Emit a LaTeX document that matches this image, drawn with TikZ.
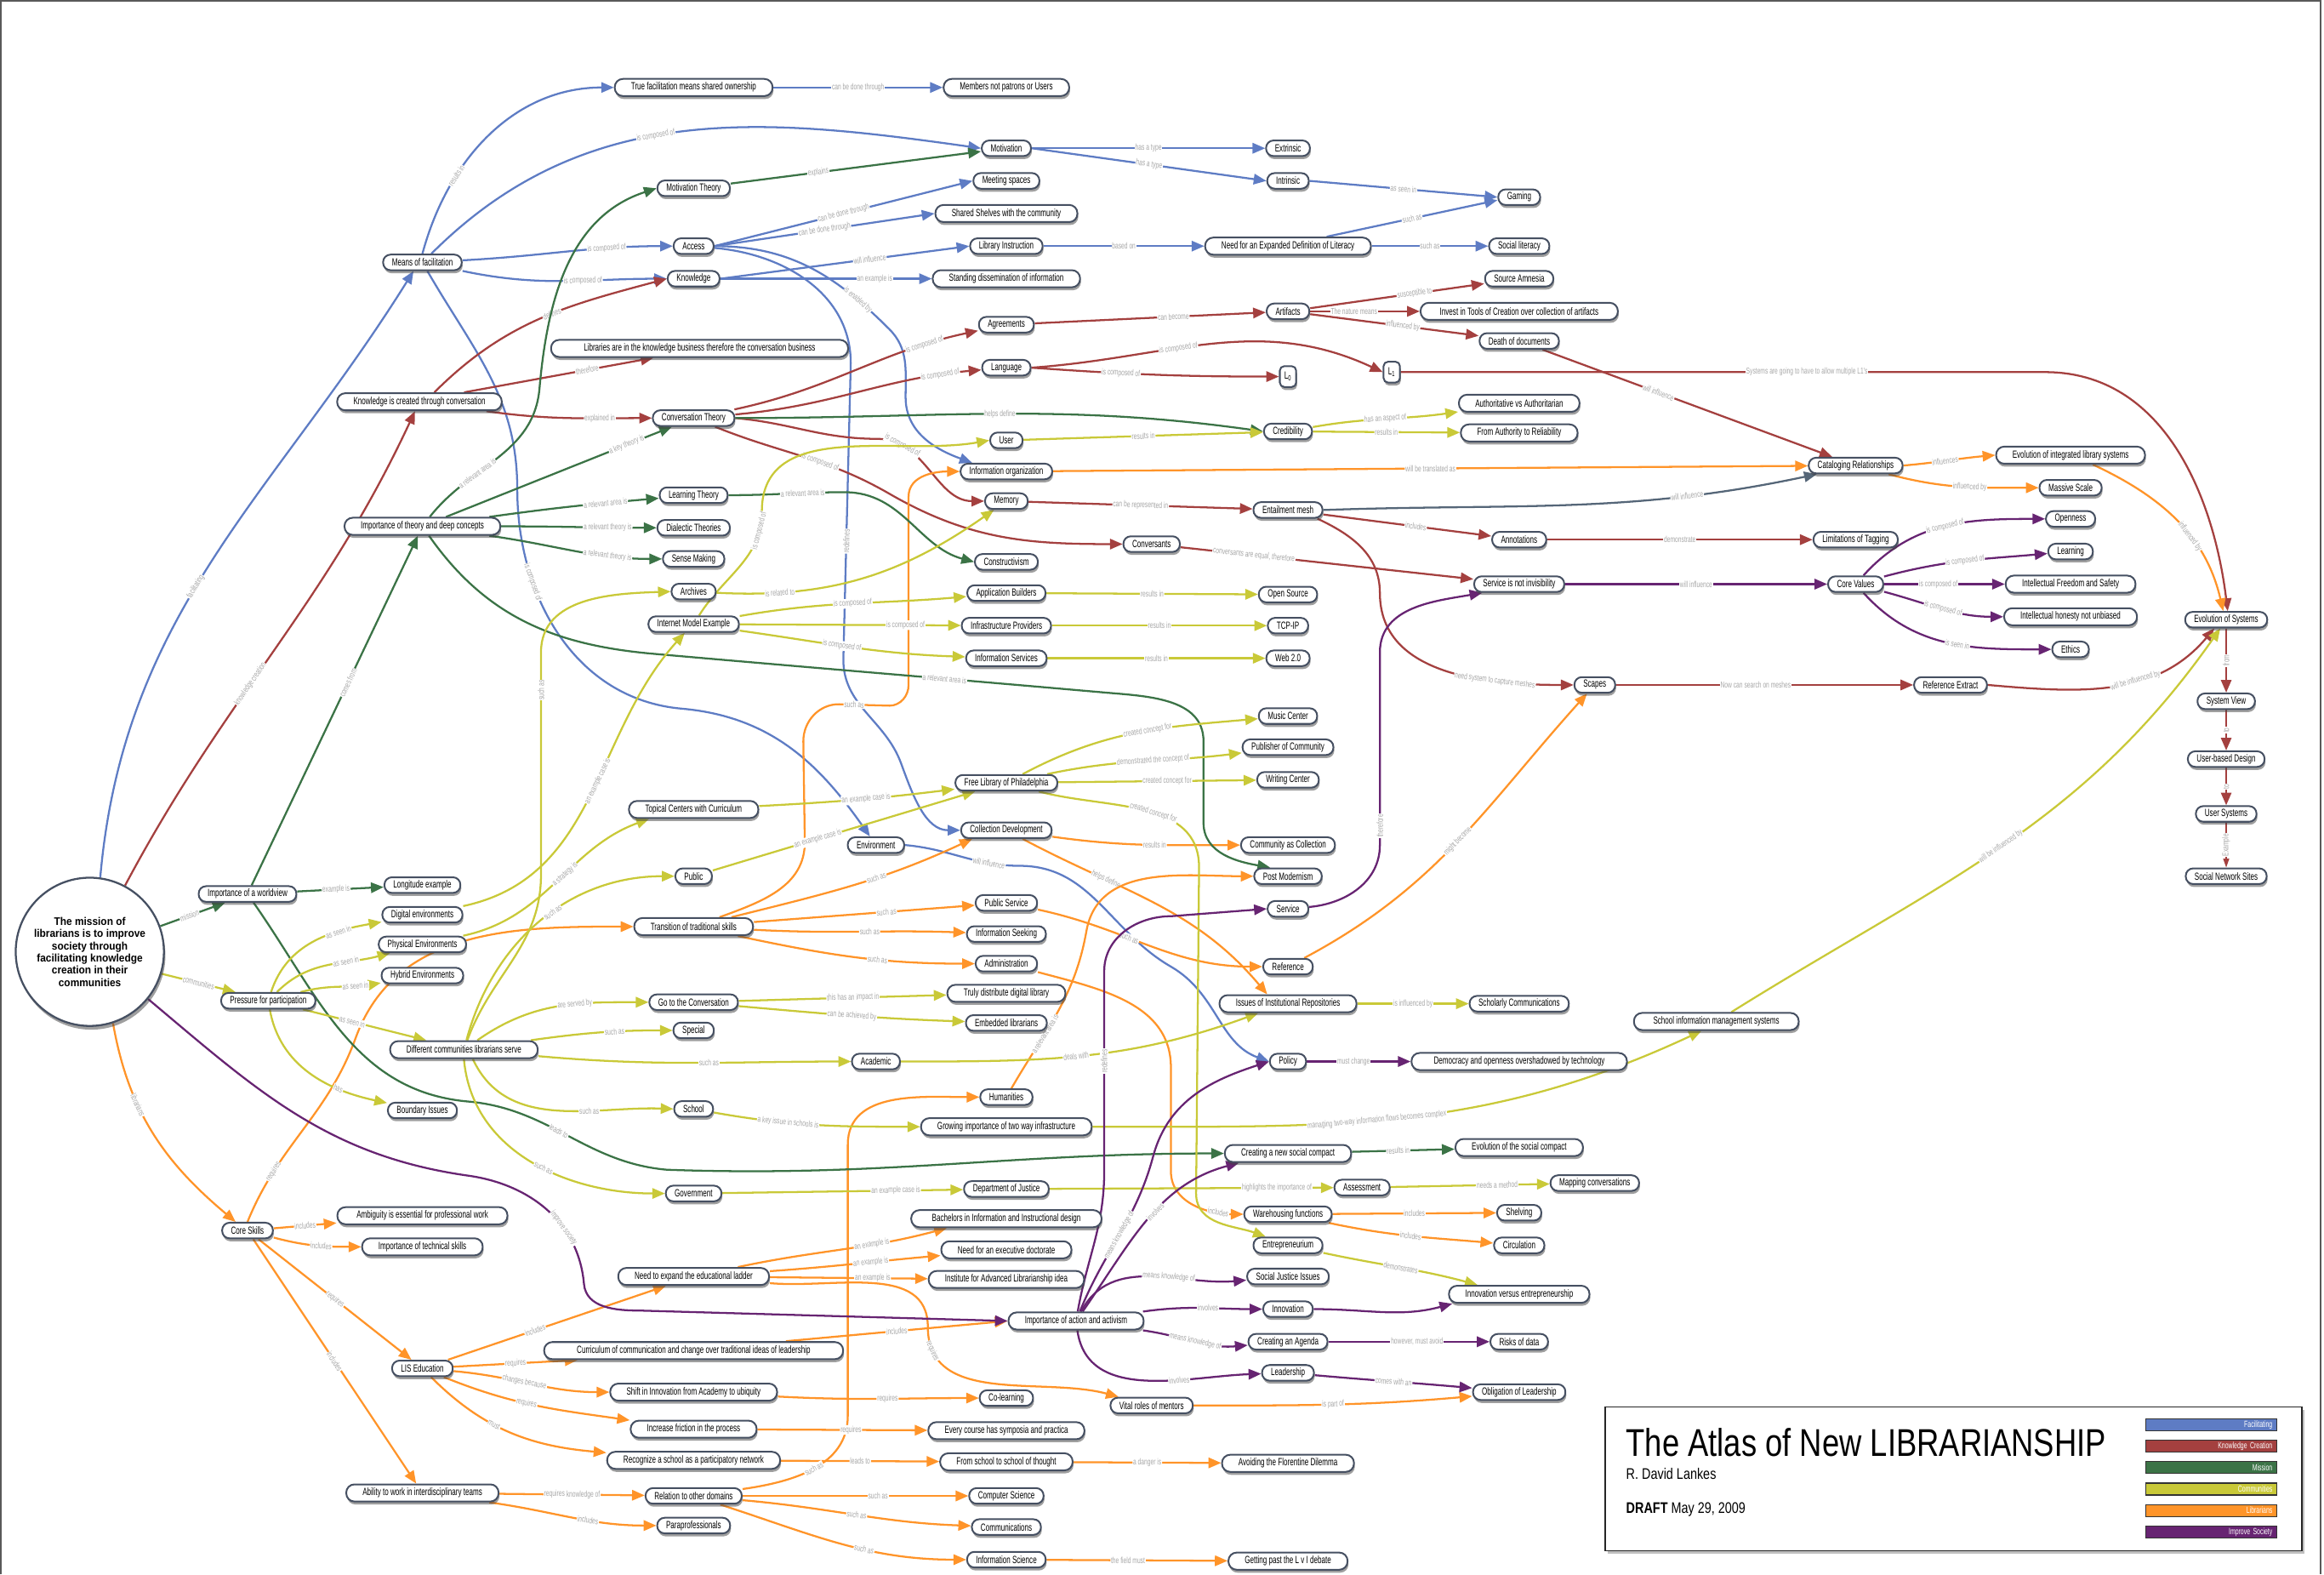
\documentclass[tikz,border=0pt]{standalone}
\usepackage{fontspec}
\setmainfont{Liberation Sans}
\newfontfamily\nodefont{Liberation Sans}[FakeStretch=0.66]
\newfontfamily\missionfont{Liberation Sans}[FakeStretch=0.92]
\newfontfamily\titlefont{Liberation Sans}[FakeStretch=0.8]
\usepackage{tikz}
\usetikzlibrary{positioning, arrows.meta, shadows}

\definecolor{facblue}{RGB}{94,124,196}
\definecolor{knored}{RGB}{164,64,63}
\definecolor{misgreen}{RGB}{59,115,70}
\definecolor{comyellow}{RGB}{201,201,56}
\definecolor{liborange}{RGB}{255,148,41}
\definecolor{socpurple}{RGB}{103,36,114}
\definecolor{slate}{RGB}{85,102,120}
\definecolor{boxline}{RGB}{70,80,98}
\definecolor{lblgray}{RGB}{168,168,168}

\pgfdeclarelayer{edges}
\pgfsetlayers{edges,main}

\tikzset{
  box/.style={draw=boxline, line width=1.15pt, fill=white, rounded corners=5pt,
    minimum height=10.5pt, inner xsep=6pt, inner ysep=1.2pt,
    font=\nodefont\fontsize{7}{8}\selectfont,
    drop shadow={shadow xshift=.6pt, shadow yshift=-2pt, opacity=.5, fill=black!75}},
  lbox/.style={box, inner xsep=11pt, minimum height=11.5pt, rounded corners=5.5pt},
  xlbox/.style={box, inner xsep=22pt, minimum height=11.5pt, rounded corners=5.5pt},
  sqbox/.style={box, rounded corners=3pt, minimum height=14pt, minimum width=11pt, inner xsep=2pt},
  lblbase/.style={font=\nodefont\fontsize{5.8}{6}\selectfont, text=lblgray, fill=white, inner sep=.5pt},
  lbl/.style={lblbase, sloped},
  vlbl/.style={lblbase, rotate=90},
  link/.style={line width=1.3pt, -{Triangle[length=8.5pt,width=7pt]}},
  fac/.style={link, draw=facblue},
  kno/.style={link, draw=knored},
  mis/.style={link, draw=misgreen},
  com/.style={link, draw=comyellow},
  lib/.style={link, draw=liborange},
  soc/.style={link, draw=socpurple},
  slt/.style={link, draw=slate},
  legbar/.style={draw=black!80, line width=.6pt, minimum height=8pt, text width=82pt,
    inner xsep=3pt, inner ysep=0pt, align=right, text=white,
    font=\nodefont\fontsize{6}{6}\selectfont}
}

\begin{document}
\begin{tikzpicture}[x=0.035cm, y=0.035cm]
\useasboundingbox (0,0) rectangle (1568,-1062);
\draw[black!65, line width=1.2pt] (0.8,-1062) -- (0.8,-0.8) -- (1565.5,-0.8) -- (1565.5,-1062);

\node[circle, draw=boxline, line width=1.3pt, fill=white, minimum size=3.5cm, inner sep=0pt,
  align=center, font=\missionfont\bfseries\fontsize{7.4}{8.2}\selectfont,
  drop shadow={shadow xshift=1pt, shadow yshift=-2.5pt, opacity=.5, fill=black!75}]
  (mission) at (60.6,-642) {The mission of\\librarians is to improve\\society through\\facilitating knowledge\\creation in their\\communities};

% first column
\node[box] (meansfac) at (285,-177) {Means of facilitation};
\node[lbox] (kcreated) at (283,-271) {Knowledge is created through conversation};
\node[lbox] (theory) at (285,-355) {Importance of theory and deep concepts};
\node[box] (worldview) at (167,-603) {Importance of a worldview};
\node[box] (pressure) at (181,-675) {Pressure for participation};
\node[box] (longitude) at (285,-597) {Longitude example};
\node[box] (digital) at (285,-617) {Digital environments};
\node[box] (physical) at (285,-637) {Physical Environments};
\node[box] (hybrid) at (285,-658) {Hybrid Environments};
\node[lbox] (diffcomm) at (313,-708) {Different communities librarians serve};
\node[box] (boundary) at (285,-749) {Boundary Issues};
\node[box] (coreskills) at (167,-830) {Core Skills};
\node[lbox, inner xsep=13pt] (ambiguity) at (285,-820) {Ambiguity is essential for professional work};
\node[lbox] (techskills) at (285,-841) {Importance of technical skills};
\node[box] (lised) at (285,-923) {LIS Education};
\node[lbox] (teams) at (285,-1007) {Ability to work in interdisciplinary teams};

% second column
\node[lbox] (truefac) at (468,-59) {True facilitation means shared ownership};
\node[box] (motivtheory) at (468,-127) {Motivation Theory};
\node[box] (access) at (468,-166) {Access};
\node[box] (knowledge) at (468,-188) {Knowledge};
\node[xlbox] (libbiz) at (472,-235) {Libraries are in the knowledge business therefore the conversation business};
\node[box] (convtheory) at (468,-282) {Conversation Theory};
\node[box] (learntheory) at (468,-334) {Learning Theory};
\node[box] (dialectic) at (468,-356) {Dialectic Theories};
\node[box] (sensemaking) at (468,-377) {Sense Making};
\node[box] (archives) at (468,-399) {Archives};
\node[box] (internet) at (468,-421) {Internet Model Example};
\node[lbox] (topical) at (468,-546) {Topical Centers with Curriculum};
\node[box] (public) at (468,-591) {Public};
\node[lbox] (transition) at (468,-625) {Transition of traditional skills};
\node[box] (goconv) at (468,-676) {Go to the Conversation};
\node[box] (special) at (468,-695) {Special};
\node[box] (school) at (468,-748) {School};
\node[box] (government) at (468,-805) {Government};
\node[lbox] (ladder) at (468,-861) {Need to expand the educational ladder};
\node[xlbox] (curriculum) at (468,-911) {Curriculum of communication and change over traditional ideas of leadership};
\node[lbox] (shift) at (468,-939) {Shift in Innovation from Academy to ubiquity};
\node[lbox] (friction) at (468,-964) {Increase friction in the process};
\node[lbox] (recognize) at (468,-985) {Recognize a school as a participatory network};
\node[box] (relation) at (468,-1009) {Relation to other domains};
\node[box] (parapro) at (468,-1029) {Paraprofessionals};

% third column
\node[lbox] (members) at (679,-59) {Members not patrons or Users};
\node[box] (motivation) at (679,-100) {Motivation};
\node[box] (meeting) at (679,-122) {Meeting spaces};
\node[lbox] (shelves) at (679,-144) {Shared Shelves with the community};
\node[box] (libinstr) at (679,-166) {Library Instruction};
\node[lbox] (standing) at (679,-188) {Standing dissemination of information};
\node[box] (agreements) at (679,-219) {Agreements};
\node[box] (language) at (679,-248) {Language};
\node[box] (user) at (679,-297) {User};
\node[box] (infoorg) at (679,-318) {Information organization};
\node[box] (memory) at (679,-338) {Memory};
\node[box] (constructivism) at (679,-379) {Constructivism};
\node[box] (appbuild) at (679,-400) {Application Builders};
\node[box] (infraprov) at (679,-422) {Infrastructure Providers};
\node[box] (infoserv) at (679,-444) {Information Services};
\node[box] (freelib) at (679,-528) {Free Library of Philadelphia};
\node[box] (colldev) at (679,-560) {Collection Development};
\node[box] (environment) at (591,-570) {Environment};
\node[box] (pubservice) at (679,-609) {Public Service};
\node[box] (infoseek) at (679,-630) {Information Seeking};
\node[box] (admin) at (679,-650) {Administration};
\node[lbox] (digilib) at (679,-670) {Truly distribute digital library};
\node[box] (embedded) at (679,-690) {Embedded librarians};
\node[box] (academic) at (591,-716) {Academic};
\node[box] (humanities) at (679,-740) {Humanities};
\node[lbox] (twoway) at (679,-760) {Growing importance of two way infrastructure};
\node[box] (justice) at (679,-802) {Department of Justice};
\node[lbox, inner xsep=14pt] (bachelors) at (679,-822) {Bachelors in Information and Instructional design};
\node[lbox] (doctorate) at (679,-843) {Need for an executive doctorate};
\node[lbox] (institute) at (679,-863) {Institute for Advanced Librarianship idea};
\node[lbox] (activism) at (726,-891) {Importance of action and activism};
\node[box] (colearning) at (679,-943) {Co-learning};
\node[lbox] (symposia) at (679,-965) {Every course has symposia and practica};
\node[lbox] (schoolthought) at (679,-986) {From school to school of thought};
\node[box] (compsci) at (679,-1009) {Computer Science};
\node[box] (communications) at (679,-1030) {Communications};
\node[box] (infosci) at (679,-1052) {Information Science};
\node[box] (mentors) at (777,-948) {Vital roles of mentors};

% fourth column
\node[box] (extrinsic) at (869,-100) {Extrinsic};
\node[box] (intrinsic) at (869,-122) {Intrinsic};
\node[lbox] (literacy) at (869,-166) {Need for an Expanded Definition of Literacy};
\node[box] (artifacts) at (869,-210) {Artifacts};
\node[sqbox] (lzero) at (869,-254) {L\textsubscript{0}};
\node[sqbox] (lone) at (939,-251) {L\textsubscript{1}};
\node[box] (credibility) at (869,-291) {Credibility};
\node[box] (entailment) at (869,-344) {Entailment mesh};
\node[box] (conversants) at (777,-367) {Conversants};
\node[box] (opensource) at (869,-401) {Open Source};
\node[box] (tcpip) at (869,-422) {TCP-IP};
\node[box] (web20) at (869,-444) {Web 2.0};
\node[box] (musiccenter) at (869,-483) {Music Center};
\node[box] (publisher) at (869,-504) {Publisher of Community};
\node[box] (writing) at (869,-526) {Writing Center};
\node[box] (commcoll) at (869,-570) {Community as Collection};
\node[box] (postmod) at (869,-591) {Post Modernism};
\node[box] (service) at (869,-613) {Service};
\node[box] (reference) at (869,-652) {Reference};
\node[lbox] (repos) at (869,-677) {Issues of Institutional Repositories};
\node[box] (policy) at (869,-716) {Policy};
\node[lbox] (newcompact) at (869,-778) {Creating a new social compact};
\node[box] (assessment) at (919,-801) {Assessment};
\node[box] (warehousing) at (869,-819) {Warehousing functions};
\node[box] (entrep) at (869,-840) {Entrepreneurium};
\node[box] (socjustice) at (869,-861) {Social Justice Issues};
\node[box] (innovation) at (869,-883) {Innovation};
\node[box] (agenda) at (869,-905) {Creating an Agenda};
\node[box] (leadership) at (869,-926) {Leadership};
\node[lbox] (florentine) at (869,-987) {Avoiding the Florentine Dilemma};
\node[lbox] (lvi) at (869,-1053) {Getting past the L v I debate};

% fifth column
\node[box] (gaming) at (1025,-133) {Gaming};
\node[box] (sociallit) at (1025,-166) {Social literacy};
\node[box] (amnesia) at (1025,-188) {Source Amnesia};
\node[lbox, inner xsep=13pt] (invest) at (1025,-210) {Invest in Tools of Creation over collection of artifacts};
\node[box] (deathdocs) at (1025,-230) {Death of documents};
\node[lbox] (authoritative) at (1025,-272) {Authoritative vs Authoritarian};
\node[lbox] (reliability) at (1025,-292) {From Authority to Reliability};
\node[box] (annotations) at (1025,-364) {Annotations};
\node[box] (notinvisible) at (1025,-394) {Service is not invisibility};
\node[box] (scapes) at (1076,-462) {Scapes};
\node[box] (scholarly) at (1025,-677) {Scholarly Communications};
\node[lbox, inner xsep=15pt] (democracy) at (1025,-716) {Democracy and openness overshadowed by technology};
\node[lbox] (evolcompact) at (1025,-774) {Evolution of the social compact};
\node[box] (mapping) at (1076,-798) {Mapping conversations};
\node[box] (shelving) at (1025,-818) {Shelving};
\node[box] (circulation) at (1025,-840) {Circulation};
\node[lbox] (innovvsent) at (1025,-873) {Innovation versus entrepreneurship};
\node[box] (risks) at (1025,-905) {Risks of data};
\node[box] (obligation) at (1025,-939) {Obligation of Leadership};

% right side
\node[box] (catalog) at (1252,-314) {Cataloging Relationships};
\node[box] (tagging) at (1252,-364) {Limitations of Tagging};
\node[box] (corevalues) at (1252,-394) {Core Values};
\node[box] (refextract) at (1316,-462) {Reference Extract};
\node[lbox, inner xsep=13pt] (schoolims) at (1158,-689) {School information management systems};
\node[lbox] (evolils) at (1397,-307) {Evolution of integrated library systems};
\node[box] (massive) at (1397,-329) {Massive Scale};
\node[box] (openness) at (1397,-350) {Openness};
\node[box] (learning) at (1397,-372) {Learning};
\node[lbox] (freedom) at (1397,-394) {Intellectual Freedom and Safety};
\node[lbox] (honesty) at (1397,-416) {Intellectual honesty not unbiased};
\node[box] (ethics) at (1397,-438) {Ethics};
\node[box] (evolsys) at (1502,-418) {Evolution of Systems};
\node[box] (sysview) at (1502,-473) {System View};
\node[box] (userdesign) at (1502,-512) {User-based Design};
\node[box] (usersys) at (1502,-549) {User Systems};
\node[box] (socialnet) at (1502,-591) {Social Network Sites};

\begin{pgfonlayer}{edges}
% facilitating
\draw[fac] (mission.82) to[out=85,in=238] node[lbl,pos=.45]{facilitating} ([xshift=-6pt]meansfac.south);
\draw[fac] (meansfac.north) to[out=75,in=180] node[lbl,pos=.3]{results in} (truefac.west);
\draw[fac] ([xshift=6pt]meansfac.north) to[out=45,in=172] node[lbl,pos=.45]{is composed of} (motivation.west);
\draw[fac] (meansfac) to[out=3,in=180] node[lbl,pos=.7]{is composed of} (access);
\draw[fac] (meansfac) to[out=-12,in=180] node[lbl,pos=.6]{is composed of} (knowledge);
\draw[fac] (meansfac) to[out=-60,in=90] (349,-330) to[out=-90,in=175] node[lbl,pos=.3]{is composed of} (460,-478) to[out=-5,in=125] (environment);
\draw[fac] (access.east) -- node[lbl]{can be done through} (meeting.west);
\draw[fac] (access.east) -- node[lbl]{can be done through} (shelves.west);
\draw[fac] (access) to[out=0,in=135] node[lbl,pos=.8]{is enabled by} (600,-222) to[out=-45,in=90] (611,-268) to[out=-90,in=160] ([xshift=-23pt]infoorg.north);
\draw[fac] (access) to[out=-5,in=90] (574,-245) -- node[lbl,pos=.6]{redefines} (569,-445) to[out=-90,in=110] (608,-515) to[out=-70,in=180] (colldev.west);
\draw[fac] (knowledge.east) -- node[lbl,pos=.6]{will influence} (libinstr.west);
\draw[fac] (knowledge.east) -- node[lbl,pos=.73]{an example is} (standing.west);
\draw[fac] (libinstr) -- node[lbl]{based on} (literacy);
\draw[fac] (motivation) -- node[lbl]{has a type} (extrinsic);
\draw[fac] (motivation.east) -- node[lbl]{has a type} (intrinsic.west);
\draw[fac] (intrinsic.east) -- node[lbl]{as seen in} (gaming.west);
\draw[fac] ([xshift=26pt]literacy.north) -- node[lbl]{such as} ([yshift=-2pt]gaming.west);
\draw[fac] (literacy) -- node[lbl]{such as} (sociallit);
\draw[fac] (truefac) -- node[lbl]{can be done through} (members);
\draw[fac] (environment.east) to[out=-5,in=180] node[lbl,pos=.75]{will influence} (688,-584) to[out=0,in=150] (790,-652) to[out=-30,in=160] (policy.west);

% knowledge creation
\draw[kno] (mission.62) to[out=62,in=245] node[lbl,pos=.42]{knowledge creation} ([xshift=-3pt]kcreated.south);
\draw[kno] ([xshift=10pt]kcreated.north) to[out=45,in=195] node[lbl,pos=.55]{defines} (knowledge.west);
\draw[kno] ([xshift=30pt]kcreated.north) -- node[lbl,pos=.65]{therefore} ([xshift=-31pt]libbiz.south);
\draw[kno] (kcreated) to[out=-8,in=180] node[lbl,pos=.7]{explained in} (convtheory);
\draw[kno] (convtheory) to[out=12,in=192] node[lbl,pos=.8]{is composed of} (agreements);
\draw[kno] (convtheory) to[out=5,in=185] node[lbl,pos=.85]{is composed of} (language);
\draw[kno] (convtheory.east) to[out=-5,in=180] (592,-296) to[out=0,in=180] node[lbl,pos=.2]{is composed of} (memory.west);
\draw[kno] (convtheory) to[out=-22,in=150] node[lbl,pos=.6]{is composed of} (600,-333) to[out=-30,in=180] (conversants.west);
\draw[kno] (agreements) -- node[lbl,pos=.6]{can become} (artifacts);
\draw[kno] (language.east) to[out=4,in=155] node[lbl,pos=.4]{is composed of} (lone.west);
\draw[kno] (language.east) to[out=-4,in=180] node[lbl,pos=.35]{is composed of} (lzero.west);
\draw[kno] (artifacts) -- node[lbl,pos=.6]{susceptible to} (amnesia);
\draw[kno] (artifacts) -- node[lbl,pos=.4]{The nature means} (invest);
\draw[kno] (artifacts) -- node[lbl,pos=.55]{influenced by} (deathdocs);
\draw[kno] (deathdocs) -- node[lbl,pos=.4]{will influence} (catalog);
\draw[kno] (lone.east) -- node[lbl,pos=.63]{Systems are going to have to allow multiple L1's} (1380,-251) to[out=0,in=97] ([xshift=1pt]evolsys.north);
\draw[kno] (memory) -- node[lbl]{can be represented in} (entailment);
\draw[kno] (entailment) -- node[lbl,pos=.55]{includes} (annotations);
\draw[kno] ([xshift=-4pt]entailment.south east) to[out=-25,in=90] (931,-400) to[out=-90,in=180] node[lbl,pos=.7]{need system to capture meshes} (scapes.west);
\draw[kno] (conversants) -- node[lbl,pos=.25]{conversants are equal, therefore} (notinvisible);
\draw[kno] (annotations) -- node[lbl]{demonstrate} (tagging);
\draw[kno] (scapes) -- node[lbl,pos=.47]{Now can search on meshes} (refextract);
\draw[kno] (refextract.east) to[out=-5,in=230] node[lbl,pos=.6]{will be influenced by} ([xshift=-8pt]evolsys.south);
\draw[kno] (evolsys) -- node[vlbl]{from} (sysview);
\draw[kno] (sysview) -- node[vlbl]{to} (userdesign);
\draw[kno] (userdesign) -- node[vlbl]{to} (usersys);
\draw[kno, line width=.7pt, -{Triangle[length=6pt,width=4pt]}] (usersys) -- node[vlbl]{Example} (socialnet);
\draw[slt] (entailment.east) to[out=2,in=192] node[lbl,pos=.75]{will influence} ([xshift=6pt]catalog.south west);

% librarians
\draw[lib] (infoorg) -- node[lbl]{will be translated as} (catalog);
\draw[lib] (catalog.east) to[out=5,in=185] node[lbl,pos=.45]{influences} (evolils.west);
\draw[lib] ([xshift=-10pt]catalog.south east) to[out=-15,in=180] node[lbl,pos=.55]{influenced by} (massive.west);
\draw[lib] ([xshift=15pt]evolils.south) to[out=-25,in=103] node[lbl,pos=.6]{influenced by} ([xshift=-2pt]evolsys.north);
\draw[lib] (mission.288) to[out=-80,in=140] node[lbl,pos=.35]{librarians} ([xshift=-8pt]coreskills.north);
\draw[lib] (coreskills) -- node[lbl]{includes} (ambiguity);
\draw[lib] (coreskills) to[out=-15,in=180] node[lbl,pos=.55]{includes} (techskills);
\draw[lib] (coreskills) -- node[lbl]{requires} (lised);
\draw[lib] (coreskills) -- node[lbl]{includes} (teams);
\draw[lib] (coreskills.north) to[out=68,in=250] node[lbl,pos=.25]{requires} (240,-700) to[out=70,in=180] (transition.west);
\draw[lib] (transition) to[out=20,in=-90] (543,-568) -- (542,-500) to[out=90,in=180] (566,-475) -- node[lbl,pos=.3]{such as} (600,-476) to[out=0,in=-90] (613,-462) -- (613,-335) to[out=90,in=180] (infoorg.west);
\draw[lib] (transition) to[out=14,in=205] node[lbl,pos=.6]{such as} ([xshift=8pt]colldev.south west);
\draw[lib] (transition) -- node[lbl,pos=.6]{such as} (pubservice);
\draw[lib] (transition) to[out=-3,in=178] node[lbl,pos=.55]{such as} (infoseek);
\draw[lib] (transition) to[out=-12,in=180] node[lbl,pos=.6]{such as} (admin);
\draw[lib] (colldev) to[out=-8,in=180] node[lbl,pos=.55]{results in} (commcoll);
\draw[lib] (colldev) to[out=-28,in=130] node[lbl,pos=.3]{helps define} ([xshift=-14pt]repos.north);
\draw[lib] (pubservice) to[out=-12,in=180] node[lbl,pos=.4]{such as} (reference);
\draw[lib] (admin) to[out=-15,in=90] (790,-720) -- (790,-790) to[out=-90,in=180] node[lbl,pos=.75]{includes} (warehousing.west);
\draw[lib] (warehousing) -- node[lbl]{includes} (shelving);
\draw[lib] (warehousing) to[out=-12,in=175] node[lbl]{includes} (circulation);
\draw[lib] (humanities) to[out=60,in=-100] node[lbl,pos=.35]{a relevant area is} (733,-628) to[out=80,in=180] (postmod.west);
\draw[lib] (reference) to[out=28,in=228] node[lbl]{might become} (scapes);
\draw[lib] (lised) -- node[lbl,pos=.4]{includes} (ladder);
\draw[lib] (lised) -- node[lbl]{requires} ([xshift=-78pt]curriculum.south);
\draw[lib] (lised) to[out=-5,in=180] node[lbl,pos=.45]{changes because} (shift);
\draw[lib] (lised) to[out=-22,in=172] node[lbl,pos=.45]{requires} (friction);
\draw[lib] (lised) to[out=-45,in=175] node[lbl,pos=.4]{must} (recognize);
\draw[lib] ([xshift=62pt]curriculum.north) -- node[lbl]{includes} (activism.west);
\draw[lib] (ladder) to[out=12,in=195] node[lbl,pos=.65]{an example is} ([xshift=-40pt]bachelors.south);
\draw[lib] (ladder) to[out=4,in=185] node[lbl,pos=.6]{an example is} (doctorate);
\draw[lib] (ladder) -- node[lbl,pos=.65]{an example is} (institute);
\draw[lib] (ladder) to[out=-5,in=90] (626,-895) to[out=-90,in=165] node[lbl,pos=.12]{requires} ([xshift=6pt]mentors.north west);
\draw[lib] (mentors) to[out=0,in=185] node[lbl]{is part of} (obligation);
\draw[lib] (recognize) -- node[lbl]{leads to} (schoolthought);
\draw[lib] (schoolthought) -- node[lbl]{a danger is} (florentine);
\draw[lib] (teams) -- node[lbl]{requires knowledge of} (relation);
\draw[lib] (teams) to[out=-8,in=180] node[lbl,pos=.6]{includes} (parapro);
\draw[lib] (relation) -- node[lbl,pos=.6]{such as} (compsci);
\draw[lib] (relation) to[out=-5,in=178] node[lbl]{such as} (communications);
\draw[lib] (relation) to[out=-18,in=180] node[lbl,pos=.6]{such as} (infosci);
\draw[lib] (relation) to[out=8,in=-90] node[lbl]{such as} (572,-955) -- (572,-772) to[out=90,in=180] (humanities.west);
\draw[lib] (infosci) -- node[lbl,pos=.45]{the field must} (lvi);
\draw[lib] (friction) -- node[lbl,pos=.55]{requires} (symposia);
\draw[lib] (shift) to[out=-3,in=180] node[lbl,pos=.55]{requires} (colearning);

% mission
\draw[mis] (mission.20) -- node[lbl,pos=.45]{mission} ([xshift=-15pt]worldview.south);
\draw[mis] (worldview) -- node[lbl,pos=.45]{example is} (longitude);
\draw[mis] (worldview) -- node[lbl,pos=.58]{comes from} (theory);
\draw[mis] (worldview) to[out=-55,in=175] (316,-743) to[out=-5,in=175] node[lbl,pos=.45]{leads to} (450,-789) to[out=-2,in=180] (newcompact.west);
\draw[mis] (theory) to[out=52,in=-95] node[lbl,pos=.35]{a relevant area is} (364,-262) to[out=85,in=198] (motivtheory.west);
\draw[mis] (theory) -- node[lbl,pos=.8]{a key theory is} (convtheory);
\draw[mis] (theory) to[out=8,in=185] node[lbl,pos=.7]{a relevant area is} (learntheory);
\draw[mis] (theory) to[out=0,in=180] node[lbl,pos=.7]{a relevant theory is} (dialectic);
\draw[mis] (theory) to[out=-8,in=180] node[lbl,pos=.7]{a relevant theory is} (sensemaking);
\draw[mis] (theory) to[out=-55,in=175] (441,-441) to[out=-5,in=175] node[lbl,pos=.66]{a relevant area is} (744,-467) to[out=-5,in=90] (812,-500) -- (812,-555) to[out=-90,in=170] ([xshift=-12pt]postmod.north);
\draw[mis] (learntheory) to[out=0,in=180] node[lbl,pos=.65]{a relevant area is} (570,-332) to[out=0,in=165] (constructivism.west);
\draw[mis] (convtheory.east) to[out=0,in=172] node[lbl]{helps define} (credibility.west);
\draw[mis] (newcompact) -- node[lbl,pos=.45]{results in} (evolcompact);
\draw[mis] (motivtheory) -- node[lbl,pos=.35]{explains} (motivation);

% communities
\draw[com] (mission.-17) -- node[lbl]{communities} ([xshift=-22pt]pressure.north);
\draw[com] (pressure) to[out=72,in=190] node[lbl,pos=.7]{as seen in} (digital);
\draw[com] (pressure) to[out=45,in=195] node[lbl,pos=.65]{as seen in} (physical);
\draw[com] (pressure) to[out=15,in=190] node[lbl,pos=.7]{as seen in} (hybrid);
\draw[com] (pressure) -- node[lbl,pos=.4]{as seen in} (diffcomm);
\draw[com] (pressure) to[out=-80,in=168] node[lbl,pos=.7]{has} (boundary);
\draw[com] (diffcomm) to[out=70,in=-90] (365,-590) -- node[lbl,pos=.83]{such as} (365,-440) to[out=90,in=182] (archives.west);
\draw[com] (digital) to[out=12,in=228] node[lbl,pos=.55]{an example case is} ([xshift=-6pt]internet.south);
\draw[com] (physical) to[out=12,in=200] node[lbl,pos=.55]{a strategy is} ([xshift=-30pt]topical.south);
\draw[com] (diffcomm) to[out=75,in=180] node[lbl,pos=.55]{such as} (public.west);
\draw[com] (diffcomm) to[out=35,in=180] node[lbl,pos=.6]{are served by} (goconv);
\draw[com] (diffcomm) to[out=8,in=180] node[lbl,pos=.6]{such as} (special);
\draw[com] (diffcomm) to[out=-5,in=180] node[lbl,pos=.55]{such as} (academic);
\draw[com] ([xshift=6pt]diffcomm.south) to[out=-65,in=178] node[lbl,pos=.65]{such as} (school.west);
\draw[com] (diffcomm.south) to[out=-85,in=180] node[lbl,pos=.55]{such as} (government.west);
\draw[com] (archives) to[out=-3,in=215] node[lbl,pos=.2]{is related to} (memory);
\draw[com] (internet) to[out=10,in=185] node[lbl]{is composed of} (appbuild);
\draw[com] (internet) -- node[lbl,pos=.75]{is composed of} (infraprov);
\draw[com] (internet) to[out=-8,in=178] node[lbl,pos=.45]{is composed of} (infoserv);
\draw[com] (internet) to[out=58,in=-90] node[lbl,pos=.85]{is composed of} (514,-345) to[out=90,in=190] (user.west);
\draw[com] (appbuild) -- node[lbl]{results in} (opensource);
\draw[com] (infraprov) -- node[lbl]{results in} (tcpip);
\draw[com] (infoserv) -- node[lbl]{results in} (web20);
\draw[com] (user) -- node[lbl]{results in} (credibility);
\draw[com] (credibility) to[out=10,in=188] node[lbl]{has an aspect of} (authoritative);
\draw[com] (credibility) -- node[lbl]{results in} (reliability);
\draw[com] (topical) to[out=3,in=187] node[lbl,pos=.55]{an example case is} (freelib);
\draw[com] (public) -- node[lbl,pos=.4]{an example case is} ([xshift=-21pt]freelib.south);
\draw[com] (freelib) to[out=28,in=185] node[lbl,pos=.55]{created concept for} (musiccenter);
\draw[com] (freelib) to[out=12,in=187] node[lbl,pos=.55]{demonstrated the concept of} (publisher);
\draw[com] (freelib) -- node[lbl,pos=.55]{created concept for} (writing);
\draw[com] (freelib) to[out=-15,in=90] node[lbl,pos=.55]{created concept for} (809,-585) -- (807,-805) to[out=-90,in=160] ([xshift=-15pt]entrep.north);
\draw[com] (goconv) -- node[lbl,pos=.55]{this has an impact in} (digilib);
\draw[com] (goconv) to[out=-5,in=178] node[lbl]{can be achieved by} (embedded);
\draw[com] (school) to[out=-10,in=180] node[lbl,pos=.35]{a key issue in schools is} (twoway);
\draw[com] (twoway) to[out=0,in=205] node[lbl,pos=.45]{managing two-way information flows becomes complex} ([xshift=-10pt]schoolims.south);
\draw[com] (schoolims) to[out=32,in=235] node[lbl]{will be influenced by} ([xshift=-4pt]evolsys.south);
\draw[com] (government) -- node[lbl,pos=.72]{an example case is} (justice);
\draw[com] (justice) -- node[lbl,pos=.8]{highlights the importance of} (assessment);
\draw[com] (assessment) -- node[lbl,pos=.67]{needs a method} (mapping);
\draw[com] (academic) to[out=0,in=200] node[lbl,pos=.48]{deals with} ([xshift=-20pt]repos.south);
\draw[com] (repos) -- node[lbl]{is influenced by} (scholarly);
\draw[com] (entrep) to[out=-12,in=165] node[lbl]{demonstrates} ([xshift=-28pt]innovvsent.north);

% improve society
\draw[soc] (mission.321) to[out=-40,in=172] (316,-793) to[out=-8,in=95] node[lbl,pos=.65]{improve society} (394,-866) to[out=-85,in=180] (432,-884) -- (activism.west);
\draw[soc] (activism) to[out=62,in=185] node[lbl,pos=.6]{means knowledge of} (socjustice);
\draw[soc] (activism) to[out=8,in=180] node[lbl,pos=.55]{involves} (innovation);
\draw[soc] (activism) to[out=-8,in=185] node[lbl]{means knowledge of} (agenda);
\draw[soc] (activism) to[out=-82,in=182] node[lbl,pos=.65]{involves} (leadership);
\draw[soc] (activism) to[out=80,in=-90] (745,-790) -- node[lbl,pos=.55]{redefines} (745,-655) to[out=90,in=180] (790,-618) -- (service.west);
\draw[soc] (activism) to[out=68,in=-105] node[lbl]{means knowledge of} (778,-780) to[out=75,in=198] (policy.west);
\draw[soc] (activism) to[out=55,in=195] node[lbl,pos=.55]{involves} ([xshift=-33pt]newcompact.south);
\draw[soc] (service) to[out=5,in=-90] (931,-570) -- node[lbl,pos=.1]{therefore} (931,-440) to[out=90,in=190] ([xshift=6pt]notinvisible.south west);
\draw[soc] (notinvisible) -- node[lbl]{will influence} (corevalues);
\draw[soc] (corevalues) to[out=48,in=180] node[lbl]{is composed of} (openness);
\draw[soc] (corevalues) to[out=15,in=185] node[lbl]{is composed of} (learning);
\draw[soc] (corevalues) -- node[lbl,pos=.45]{is composed of} (freedom);
\draw[soc] (corevalues) to[out=-15,in=180] node[lbl]{is composed of} (honesty);
\draw[soc] (corevalues) to[out=-48,in=180] node[lbl,pos=.55]{is seen in} (ethics);
\draw[soc] (policy) -- node[lbl,pos=.45]{must change} (democracy);
\draw[soc] (innovation) to[out=0,in=195] ([xshift=-45pt]innovvsent.south);
\draw[soc] (agenda) -- node[lbl,pos=.55]{however, must avoid} (risks);
\draw[soc] (leadership) to[out=-5,in=175] node[lbl]{comes with an} (obligation);
\end{pgfonlayer}

% title block and legend
\filldraw[fill=white, draw=black!85, line width=.9pt,
  drop shadow={shadow xshift=1.5pt, shadow yshift=-2pt, opacity=.5}] (1083,-949) rectangle (1553,-1046);
\node[anchor=base west, inner sep=0pt, font=\titlefont\fontsize{26}{28}\selectfont] (title) at (1097,-982) {The Atlas of New LIBRARIANSHIP};
\node[anchor=base west, inner sep=0pt, font=\titlefont\fontsize{10.3}{12}\selectfont] (author) at (1097,-997.5) {R. David Lankes};
\node[anchor=base west, inner sep=0pt, font=\titlefont\fontsize{10.3}{12}\selectfont] (draft) at (1097,-1021) {\textbf{DRAFT} May 29, 2009};
\node[legbar, fill=facblue] (legfac) at (1492,-961) {Facilitating};
\node[legbar, fill=knored, below=5.8pt of legfac] (legkno) {Knowledge Creation};
\node[legbar, fill=misgreen, below=5.8pt of legkno] (legmis) {Mission};
\node[legbar, fill=comyellow, below=5.8pt of legmis] (legcom) {Communities};
\node[legbar, fill=liborange, below=5.8pt of legcom] (leglib) {Librarians};
\node[legbar, fill=socpurple, below=5.8pt of leglib] (legsoc) {Improve Society};
\end{tikzpicture}
\end{document}
